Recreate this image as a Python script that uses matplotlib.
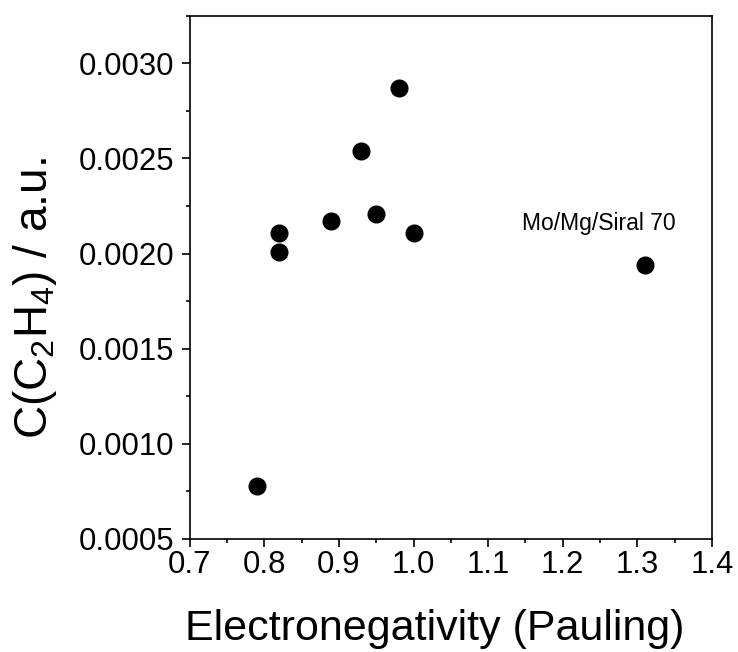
import matplotlib
matplotlib.use("Agg")
import matplotlib.pyplot as plt
from matplotlib.ticker import MultipleLocator

plt.rcParams["font.family"] = ["Liberation Sans", "DejaVu Sans"]
plt.rcParams["mathtext.fontset"] = "custom"
plt.rcParams["mathtext.rm"] = "Liberation Sans"
plt.rcParams["mathtext.it"] = "Liberation Sans"

# -----------------------------------------------------
# Data
# -----------------------------------------------------

electronegativity = [0.79, 0.82, 0.82, 0.89, 0.93, 0.95, 0.98, 1.00, 1.31]
c_ethylene = [0.00078, 0.00201, 0.00211, 0.00217, 0.00254,
              0.00221, 0.00287, 0.00211, 0.00194]

label_text = "Mo/Mg/Siral 70"
label_pos = (1.248, 0.00216)

# -----------------------------------------------------
# Plot
# -----------------------------------------------------

fig = plt.figure(figsize=(7.38, 6.52), dpi=100)
ax = fig.add_axes([189.7 / 738, 1 - 539 / 652, (712 - 189.7) / 738, (539 - 15.7) / 652])

ax.plot(electronegativity, c_ethylene, "o", color="black", markersize=12, linestyle="none")

ax.text(label_pos[0], label_pos[1], label_text, fontsize=16.5,
        ha="center", va="center")

ax.set_xlim(0.7, 1.4)
ax.set_ylim(0.0005, 0.00325)

ax.xaxis.set_major_locator(MultipleLocator(0.1))
ax.xaxis.set_minor_locator(MultipleLocator(0.05))
ax.yaxis.set_major_locator(MultipleLocator(0.0005))
ax.yaxis.set_minor_locator(MultipleLocator(0.00025))
ax.yaxis.set_major_formatter(plt.FormatStrFormatter("%.4f"))
ax.xaxis.set_major_formatter(plt.FormatStrFormatter("%.1f"))

ax.tick_params(which="both", direction="out", top=False, right=False, width=1.2)
ax.tick_params(which="major", length=6, labelsize=22.4, pad=5)
ax.tick_params(which="minor", length=3)
ax.tick_params(axis="x", which="major", pad=2)
for sp in ax.spines.values():
    sp.set_linewidth(1.2)

ax.set_xlabel("Electronegativity (Pauling)", fontsize=31)
ax.xaxis.set_label_coords(0.47, -0.133)
ax.set_ylabel("C(C$_2$H$_4$) / a.u.", fontsize=33, labelpad=14)
ax.yaxis.label.set_y(0.46)

fig.savefig("out.png", dpi=100)
plt.close()
